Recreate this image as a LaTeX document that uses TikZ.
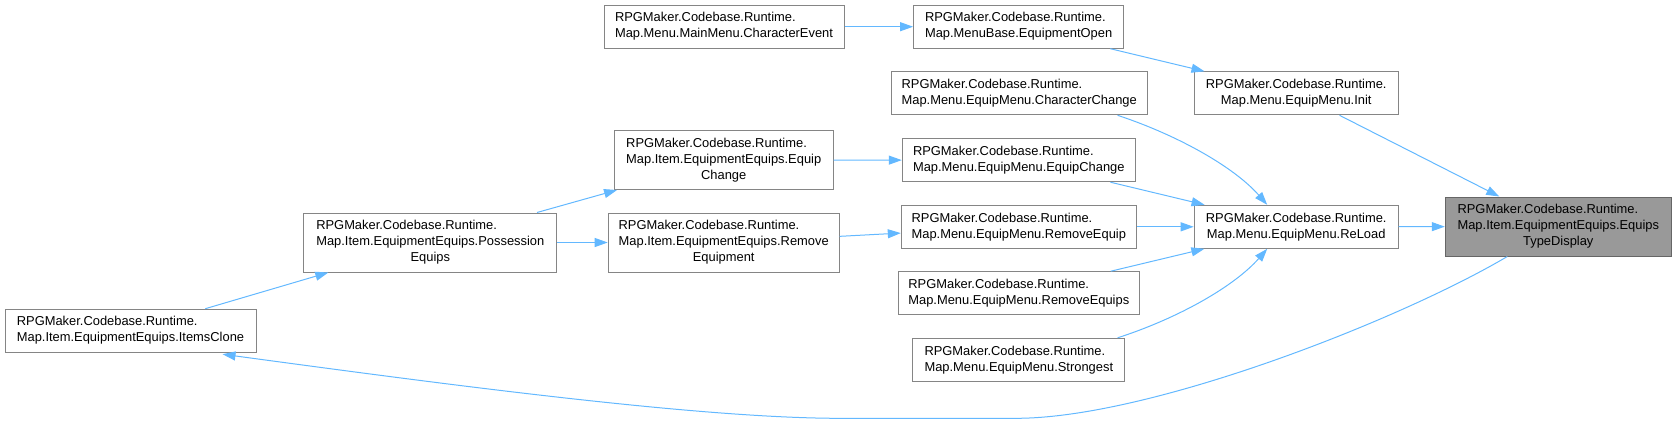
\documentclass[tikz,border=0pt]{standalone}
\usepackage{fontspec}
\setmainfont{Liberation Sans}
\usetikzlibrary{arrows.meta,calc}
\definecolor{edgeblue}{HTML}{63B8FF}
\definecolor{boxgray}{HTML}{858585}
\definecolor{rootfill}{HTML}{999999}
\definecolor{rootline}{HTML}{666666}
\newcommand{\nlines}[2]{\begin{tabular}{@{}l@{}}#1\\\multicolumn{1}{@{}c@{}}{#2}\end{tabular}}
\tikzset{
  box/.style={draw=boxgray, line width=1pt, fill=white, rectangle, inner sep=0pt,
    minimum height=43pt, font=\fontsize{12.9}{16}\selectfont},
  tall/.style={minimum height=59pt},
  root/.style={fill=rootfill, draw=rootline},
  edge/.style={draw=edgeblue, line width=1pt, -{Triangle[length=13pt,width=9pt]}, fill=none},
}
\begin{document}
\begin{tikzpicture}[x=1pt,y=-1pt]
\useasboundingbox (0,0) rectangle (1677,424);
\renewcommand{\arraystretch}{1}
\node[box, minimum width=251pt] (ic) at (130.5,330.7) {\nlines{RPGMaker.Codebase.Runtime.}{Map.Item.EquipmentEquips.ItemsClone}};
\node[box, tall, minimum width=253pt] (pe) at (430.3,242.5) {\nlines{RPGMaker.Codebase.Runtime.\\Map.Item.EquipmentEquips.Possession}{Equips}};
\node[box, tall, minimum width=219pt] (iec) at (723.7,160) {\nlines{RPGMaker.Codebase.Runtime.\\Map.Item.EquipmentEquips.Equip}{Change}};
\node[box, tall, minimum width=231pt] (ire) at (723.7,242.5) {\nlines{RPGMaker.Codebase.Runtime.\\Map.Item.EquipmentEquips.Remove}{Equipment}};
\node[box, minimum width=240pt] (ce) at (724,26.7) {\nlines{RPGMaker.Codebase.Runtime.}{Map.Menu.MainMenu.CharacterEvent}};
\node[box, minimum width=210pt] (eo) at (1018.6,26.7) {\nlines{RPGMaker.Codebase.Runtime.}{Map.MenuBase.EquipmentOpen}};
\node[box, minimum width=256pt] (cc) at (1019.2,93.3) {\nlines{RPGMaker.Codebase.Runtime.}{Map.Menu.EquipMenu.CharacterChange}};
\node[box, minimum width=204pt] (init) at (1296.2,93.3) {\nlines{RPGMaker.Codebase.Runtime.}{Map.Menu.EquipMenu.Init}};
\node[box, minimum width=233pt] (mec) at (1018.8,160.2) {\nlines{RPGMaker.Codebase.Runtime.}{Map.Menu.EquipMenu.EquipChange}};
\node[box, minimum width=235pt] (mre) at (1018.8,226.8) {\nlines{RPGMaker.Codebase.Runtime.}{Map.Menu.EquipMenu.RemoveEquip}};
\node[box, minimum width=204pt] (rl) at (1296.2,226.8) {\nlines{RPGMaker.Codebase.Runtime.}{Map.Menu.EquipMenu.ReLoad}};
\node[box, minimum width=241pt] (mres) at (1018.8,293.2) {\nlines{RPGMaker.Codebase.Runtime.}{Map.Menu.EquipMenu.RemoveEquips}};
\node[box, minimum width=212pt] (st) at (1018.8,359.8) {\nlines{RPGMaker.Codebase.Runtime.}{Map.Menu.EquipMenu.Strongest}};
\node[box, tall, root, minimum width=226pt] (etd) at (1558.3,226.5) {\nlines{RPGMaker.Codebase.Runtime.\\Map.Item.EquipmentEquips.Equips}{TypeDisplay}};

\draw[edge] (ce) -- (eo);
\draw[edge] (eo) -- (init);
\draw[edge] (init) -- (etd);
\draw[edge] (rl) -- (etd);
\draw[edge] (mec) -- (rl);
\draw[edge] (mre) -- (rl);
\draw[edge] (mres) -- (rl);
\draw[edge] ($(cc.south)+(98.4,0)$) .. controls (1180,136) and (1235,168) .. ($(rl.north)+(-29,0)$);
\draw[edge] ($(st.north)+(98.8,0)$) .. controls (1180,317.6) and (1235,285.6) .. ($(rl.south)+(-29,0)$);
\draw[edge] (iec) -- (mec);
\draw[edge] (ire) -- (mre);
\draw[edge] (pe) -- (iec);
\draw[edge] (pe) -- (ire);
\draw[edge] (ic) -- (pe);
\draw[edge] ($(etd.south)+(-51,0)$) .. controls (1400,320) and (1150,418.3) .. (1016,418.3) -- (840,418.3) .. controls (700,418.3) and (450,385) .. ($(ic.south)+(92,1.5)$);
\end{tikzpicture}
\end{document}
